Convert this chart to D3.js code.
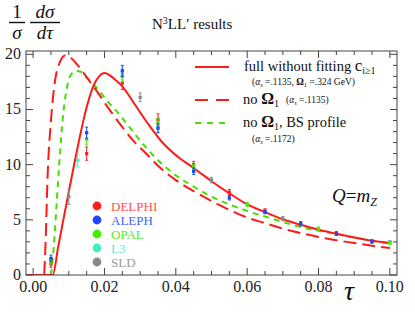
<!DOCTYPE html>
<html>
<head>
<meta charset="utf-8">
<script src="https://cdn.jsdelivr.net/npm/d3@7"></script>
<style>
  body { margin: 0; background: #fff; }
  svg { display: block; }
</style>
</head>
<body>
<svg id="chart" width="415" height="313"></svg>
<script>
// theory curves: [tau, 1/sigma dsigma/dtau]
const fullCurve = [[-0.002,0],[0.0055,0],[0.007,2.5],[0.009,5.9],[0.011,9.2],[0.013,12.4],[0.015,15.2],[0.017,17.2],[0.0185,18.0],[0.020,18.3],[0.0215,18.1],[0.023,17.7],[0.025,17.1],[0.028,15.7],[0.032,13.8],[0.036,12.1],[0.041,10.6],[0.045,9.7],[0.05,8.5],[0.055,7.4],[0.06,6.4],[0.065,5.7],[0.07,5.05],[0.075,4.55],[0.08,4.1],[0.085,3.75],[0.09,3.4],[0.095,3.1],[0.1,2.9]];
const noOmegaCurve = [[-0.002,0],[0.003,0],[0.0035,3],[0.004,8.5],[0.005,14],[0.006,17.3],[0.0075,19.3],[0.009,19.9],[0.0105,19.7],[0.012,19.2],[0.0135,18.6],[0.0155,17.7],[0.018,16.6],[0.0205,15.4],[0.0225,14.5],[0.025,13.4],[0.028,12.2],[0.032,10.9],[0.036,9.6],[0.04,8.6],[0.045,7.6],[0.05,6.7],[0.055,5.9],[0.06,5.2],[0.065,4.7],[0.07,4.2],[0.075,3.8],[0.08,3.45],[0.085,3.15],[0.09,2.9],[0.095,2.65],[0.1,2.45]];
const bsCurve = [[0.005,0],[0.0055,1.5],[0.0065,6],[0.0073,10],[0.0085,14.8],[0.0095,17],[0.0105,18.1],[0.012,18.5],[0.0135,18.4],[0.015,17.9],[0.018,16.9],[0.0207,15.8],[0.0235,14.8],[0.027,13.4],[0.031,11.8],[0.035,10.4],[0.0385,9.4],[0.045,8.0],[0.05,7.1],[0.055,6.4],[0.06,5.8],[0.066,5.2],[0.07,4.8],[0.075,4.35],[0.08,4.0],[0.085,3.7],[0.09,3.4],[0.095,3.1],[0.1,2.85]];

// data: [tau, value, error]
const delphi = [[0.005,1.0,0.3],[0.015,11.0,0.6],[0.025,17.4,0.6],[0.035,14.1,0.5],[0.045,10.0,0.3],[0.055,7.5,0.25],[0.065,5.8,0.2],[0.075,4.7,0.15],[0.085,3.8,0.15],[0.095,3.1,0.1]];
const aleph = [[0.005,1.5,0.3],[0.015,12.9,0.5],[0.025,18.5,0.5],[0.035,13.3,0.4],[0.045,9.4,0.3],[0.055,7.0,0.2],[0.065,5.7,0.15],[0.075,4.6,0.15],[0.085,3.7,0.1],[0.095,3.0,0.1]];
const opal = [[0.005,1.3,0.3],[0.015,12.3,0.5],[0.025,18.0,0.5],[0.035,13.8,0.4],[0.045,9.7,0.3],[0.06,6.4,0.2],[0.08,4.2,0.15],[0.1,2.9,0.1]];
const l3 = [[0.0125,10.4,0.6],[0.025,18.2,0.5],[0.035,13.4,0.5],[0.045,9.6,0.3],[0.075,4.6,0.15],[0.1,2.95,0.1]];
const sld = [[0.01,7.1,0.7],[0.03,16.1,0.4],[0.05,8.6,0.25],[0.07,5.1,0.2],[0.1,3.0,0.1]];

const expNames = ["DELPHI", "ALEPH", "OPAL", "L3", "SLD"];
const xTicks = [0, 0.02, 0.04, 0.06, 0.08, 0.10];
const yTicks = [0, 5, 10, 15, 20];

const serif = "Liberation Serif, DejaVu Serif, serif";
const svg = d3.select("#chart").attr("font-family", serif);
const mLeft = 26, mRight = 397, mTop = 51, mBottom = 275;

const x = d3.scaleLinear().domain([-0.002, 0.102]).range([mLeft, mRight]);
const y = d3.scaleLinear().domain([0, 20.3]).range([mBottom, mTop]);

const frameColor = "#444";
const red = "#ff1a1a";
const green = "#44e000";
const expColors = ["#ff2020", "#2244ff", "#44ee00", "#40f0c0", "#888888"];
const expText = ["#ff5050", "#4060ff", "#55ee22", "#55eec0", "#999999"];

// clip
svg.append("defs").append("clipPath").attr("id", "clip")
  .append("rect").attr("x", mLeft).attr("y", mTop).attr("width", mRight - mLeft).attr("height", mBottom - mTop);

// ticks (inward, on all four sides)
const minorX = d3.range(0, 0.1001, 0.005);
const minorY = d3.range(0, 20.01, 1);
const tg = svg.append("g").attr("stroke", frameColor).attr("stroke-width", 1);
minorX.forEach(v => {
  const major = Math.abs(v / 0.02 - Math.round(v / 0.02)) < 1e-6;
  const len = major ? 7 : 4;
  tg.append("line").attr("x1", x(v)).attr("x2", x(v)).attr("y1", mBottom).attr("y2", mBottom - len);
  tg.append("line").attr("x1", x(v)).attr("x2", x(v)).attr("y1", mTop).attr("y2", mTop + len);
});
minorY.forEach(v => {
  const len = v % 5 === 0 ? 7 : 4;
  tg.append("line").attr("y1", y(v)).attr("y2", y(v)).attr("x1", mLeft).attr("x2", mLeft + len);
  tg.append("line").attr("y1", y(v)).attr("y2", y(v)).attr("x1", mRight).attr("x2", mRight - len);
});

// tick labels
svg.append("g").selectAll("text").data(xTicks).join("text")
  .attr("x", d => x(d)).attr("y", 292).attr("text-anchor", "middle")
  .attr("font-size", 16).attr("fill", "#222")
  .text(d => d3.format(".2f")(d));
svg.append("g").selectAll("text").data(yTicks).join("text")
  .attr("x", 21).attr("y", d => y(d) + 5).attr("text-anchor", "end")
  .attr("font-size", 16).attr("fill", "#222")
  .text(d => d);

// curves
const line = d3.line().x(d => x(d[0])).y(d => y(d[1])).curve(d3.curveMonotoneX);
const cg = svg.append("g").attr("clip-path", "url(#clip)").attr("fill", "none");
cg.append("path").datum(bsCurve).attr("d", line)
  .attr("stroke", green).attr("stroke-width", 2).attr("stroke-dasharray", "6,5");
cg.append("path").datum(noOmegaCurve).attr("d", line)
  .attr("stroke", red).attr("stroke-width", 2).attr("stroke-dasharray", "13,6");
cg.append("path").datum(fullCurve).attr("d", line)
  .attr("stroke", red).attr("stroke-width", 2);

// data points with error bars
const dsets = [delphi, aleph, opal, l3, sld];
const drawOrder = [4, 0, 3, 2, 1];
drawOrder.forEach(i => {
  const g = svg.append("g").attr("stroke", expColors[i]).attr("fill", expColors[i]);
  dsets[i].forEach(p => {
    const cx = x(p[0]);
    g.append("line").attr("x1", cx).attr("x2", cx).attr("y1", y(p[1] - p[2])).attr("y2", y(p[1] + p[2])).attr("stroke-width", 1);
    g.append("line").attr("x1", cx - 1.5).attr("x2", cx + 1.5).attr("y1", y(p[1] - p[2])).attr("y2", y(p[1] - p[2]));
    g.append("line").attr("x1", cx - 1.5).attr("x2", cx + 1.5).attr("y1", y(p[1] + p[2])).attr("y2", y(p[1] + p[2]));
    g.append("rect").attr("x", cx - 1.6).attr("y", y(p[1]) - 1.6).attr("width", 3.2).attr("height", 3.2).attr("stroke", "none");
  });
});

// frame
svg.append("rect").attr("x", mLeft).attr("y", mTop).attr("width", mRight - mLeft).attr("height", mBottom - mTop)
  .attr("fill", "none").attr("stroke", frameColor).attr("stroke-width", 1);

// experiment legend
expNames.forEach((n, i) => {
  const yy = 206 + i * 14;
  svg.append("circle").attr("cx", 97).attr("cy", yy).attr("r", 4.4).attr("fill", expColors[i]);
  svg.append("text").attr("x", 111).attr("y", yy + 4.5).attr("font-size", 13)
    .attr("fill", expText[i]).text(n);
});

// curve legend
const lg = svg.append("g").attr("fill", "#111");
lg.append("line").attr("x1", 195).attr("x2", 229).attr("y1", 67).attr("y2", 67).attr("stroke", red).attr("stroke-width", 2);
lg.append("line").attr("x1", 195).attr("x2", 229).attr("y1", 100).attr("y2", 100).attr("stroke", red).attr("stroke-width", 2).attr("stroke-dasharray", "13,8");
lg.append("line").attr("x1", 195).attr("x2", 229).attr("y1", 123).attr("y2", 123).attr("stroke", green).attr("stroke-width", 2).attr("stroke-dasharray", "6,6");

const t1 = lg.append("text").attr("x", 244).attr("y", 71).attr("font-size", 14.5);
t1.append("tspan").text("full without fitting ");
t1.append("tspan").attr("font-size", 17).text("c");
t1.append("tspan").attr("font-size", 10).attr("dy", 3).text("i≥1");
lg.append("text").attr("x", 252).attr("y", 85).attr("font-size", 9.5)
  .html('(<tspan font-style="italic">α</tspan><tspan font-size="6.5" dy="2" font-style="italic">s</tspan><tspan dy="-2"> =.1135, </tspan><tspan font-weight="bold">Ω</tspan><tspan font-size="6.5" dy="2">1</tspan><tspan dy="-2"> =.324 GeV)</tspan>');

const t2 = lg.append("text").attr("x", 243).attr("y", 104).attr("font-size", 14.5);
t2.append("tspan").text("no ");
t2.append("tspan").attr("font-weight", "bold").attr("font-size", 16).text("Ω");
t2.append("tspan").attr("font-size", 10).attr("dy", 3).text("1");
lg.append("text").attr("x", 286).attr("y", 103).attr("font-size", 9.5)
  .html('(<tspan font-style="italic">α</tspan><tspan font-size="6.5" dy="2" font-style="italic">s</tspan><tspan dy="-2"> =.1135)</tspan>');

const t3 = lg.append("text").attr("x", 243).attr("y", 127).attr("font-size", 14.5);
t3.append("tspan").text("no ");
t3.append("tspan").attr("font-weight", "bold").attr("font-size", 16).text("Ω");
t3.append("tspan").attr("font-size", 10).attr("dy", 3).text("1");
t3.append("tspan").attr("dy", -3).text(", BS profile");
lg.append("text").attr("x", 252).attr("y", 142).attr("font-size", 9.5)
  .html('(<tspan font-style="italic">α</tspan><tspan font-size="6.5" dy="2" font-style="italic">s</tspan><tspan dy="-2"> =.1172)</tspan>');

// Q = m_Z
const q = svg.append("text").attr("x", 332).attr("y", 202).attr("font-size", 19).attr("fill", "#111");
q.append("tspan").attr("font-style", "italic").text("Q");
q.append("tspan").text("=");
q.append("tspan").attr("font-style", "italic").text("m");
q.append("tspan").attr("font-style", "italic").attr("font-size", 12).attr("dy", 4).text("Z");

// title
const tt = svg.append("text").attr("x", 152).attr("y", 29).attr("font-size", 15).attr("fill", "#111");
tt.append("tspan").text("N");
tt.append("tspan").attr("font-size", 10).attr("dy", -5).text("3");
tt.append("tspan").attr("dy", 5).text("LL′  results");

// axis labels
svg.append("text").attr("x", 344).attr("y", 300).attr("font-size", 28).attr("font-style", "italic").attr("fill", "#111").text("τ");

const yl = svg.append("g").attr("fill", "#111").attr("font-size", 19);
yl.append("text").attr("x", 17).attr("y", 18).attr("text-anchor", "middle").text("1");
yl.append("line").attr("x1", 9).attr("x2", 25).attr("y1", 22.5).attr("y2", 22.5).attr("stroke", "#111").attr("stroke-width", 1.4);
yl.append("text").attr("x", 17).attr("y", 39).attr("text-anchor", "middle").attr("font-style", "italic").text("σ");
yl.append("text").attr("x", 45).attr("y", 18).attr("text-anchor", "middle").attr("font-style", "italic").text("dσ");
yl.append("line").attr("x1", 30).attr("x2", 60).attr("y1", 22.5).attr("y2", 22.5).attr("stroke", "#111").attr("stroke-width", 1.4);
yl.append("text").attr("x", 45).attr("y", 39).attr("text-anchor", "middle").attr("font-style", "italic").text("dτ");
</script>
</body>
</html>
